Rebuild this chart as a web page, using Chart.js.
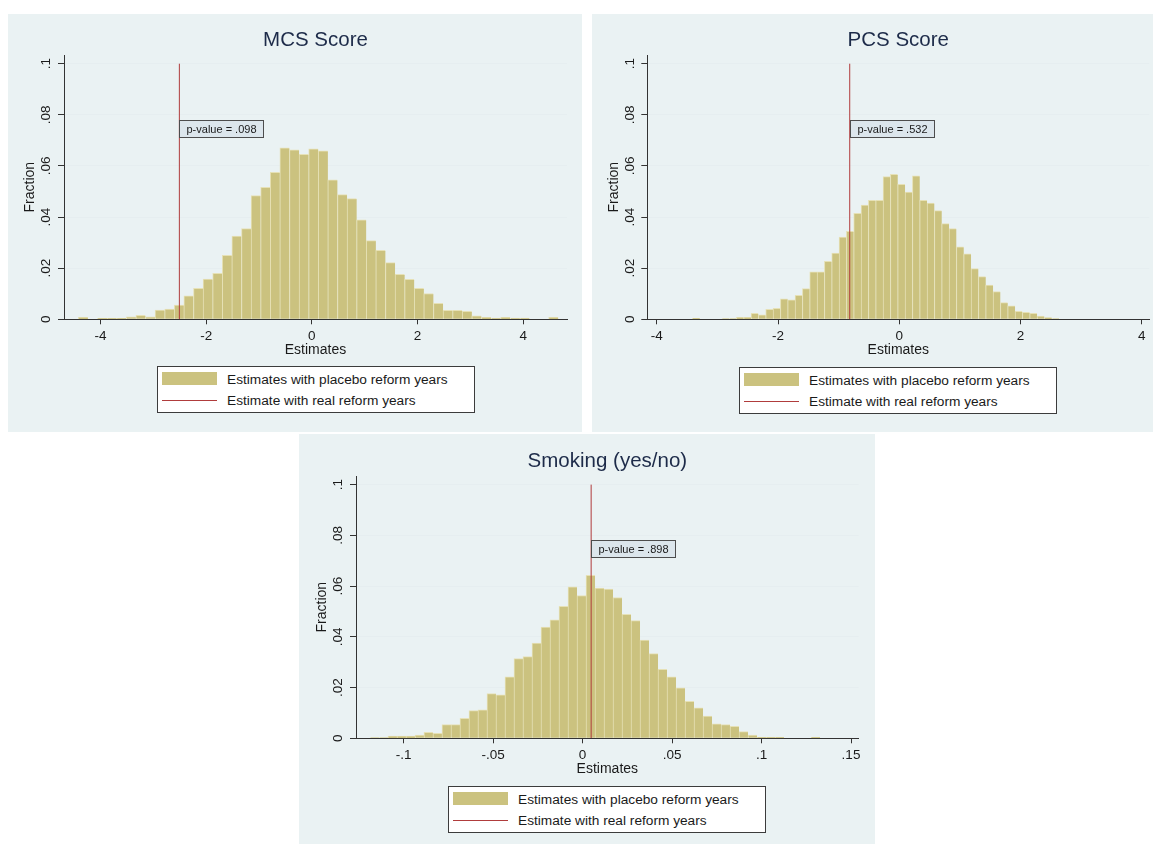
<!DOCTYPE html>
<html>
<head>
<meta charset="utf-8">
<script src="https://cdn.jsdelivr.net/npm/chart.js@4.4.1/dist/chart.umd.min.js"></script>
<style>
    body { margin: 0; background: #fff; width: 1153px; height: 844px; position: relative; overflow: hidden;
           font-family: "Liberation Sans", Arial, sans-serif; }
    .panel { position: absolute; background: #eaf2f3; }
    .panel canvas { position: absolute; left: 0; top: 0; }
    .legend { position: absolute; width: 316px; height: 43px; padding-top: 2px; background: #fff; border: 1px solid #3c3c3c; }
    .legend .row { position: relative; height: 21px; font-size: 13.7px; line-height: 21px; color: #1a1a1a; white-space: nowrap; }
    .legend .key { position: absolute; left: 4px; width: 55px; }
    .legend .key.fill { top: 3px; height: 13px; }
    .legend .key.line { top: 10px; height: 0; border-top: 1px solid; }
    .legend .txt { position: absolute; left: 69px; top: 0; }
</style>
</head>
<body>
<script>
// Histogram fractions (50 bins per panel)
const MCS_BIN_START = -4.421;
const MCS_BIN_WIDTH = 0.1817;
const MCS_FRACTION = [0.0008, 0, 0.0004, 0.0004, 0.0004, 0.001, 0.0016, 0.001, 0.0036, 0.004,
    0.0056, 0.0092, 0.0121, 0.0157, 0.018, 0.025, 0.0326, 0.0355, 0.0484, 0.0516,
    0.0575, 0.0671, 0.0663, 0.0645, 0.0667, 0.0659, 0.0546, 0.0488, 0.0472, 0.0389,
    0.0308, 0.027, 0.0222, 0.0176, 0.0156, 0.0121, 0.0101, 0.0062, 0.0035, 0.0035,
    0.0031, 0.0014, 0.0008, 0.0005, 0.0008, 0.0005, 0.0005, 0, 0, 0.0008];
const MCS_REAL = -2.508;
const MCS_PVALUE = 'p-value = .098';

const PCS_BIN_START = -3.414;
const PCS_BIN_WIDTH = 0.121;
const PCS_FRACTION = [0.0004, 0, 0, 0, 0.0003, 0.0003, 0.0008, 0.0008, 0.0023, 0.0017,
    0.0039, 0.0043, 0.008, 0.0076, 0.0094, 0.012, 0.0186, 0.0186, 0.0227, 0.0259,
    0.0322, 0.0344, 0.0415, 0.0447, 0.0465, 0.0465, 0.0558, 0.0567, 0.0528, 0.0498,
    0.0561, 0.0465, 0.0455, 0.0425, 0.0374, 0.0355, 0.0284, 0.0256, 0.0198, 0.0167,
    0.0134, 0.0108, 0.0065, 0.0053, 0.0031, 0.0027, 0.0023, 0.0013, 0.0007, 0.0003];
const PCS_REAL = -0.818;
const PCS_PVALUE = 'p-value = .532';

const SMK_BIN_START = -0.1188;
const SMK_BIN_WIDTH = 0.00503;
const SMK_FRACTION = [0.0003, 0.0003, 0.0009, 0.0009, 0.0009, 0.0013, 0.0024, 0.002, 0.0054, 0.0054,
    0.0079, 0.0109, 0.0112, 0.0176, 0.0171, 0.0242, 0.0314, 0.0322, 0.0375, 0.0438,
    0.0467, 0.052, 0.0597, 0.0563, 0.0642, 0.0592, 0.0588, 0.0555, 0.0489, 0.0464,
    0.0387, 0.0334, 0.0272, 0.0242, 0.0199, 0.0146, 0.012, 0.0088, 0.0057, 0.0054,
    0.0047, 0.0026, 0.0013, 0.0004, 0.0004, 0.0004, 0, 0, 0, 0.0004];
const SMK_REAL = 0.0048;
const SMK_PVALUE = 'p-value = .898';

// Tick values and labels
const Y_TICKS = [0, 0.02, 0.04, 0.06, 0.08, 0.1];
const Y_LABELS = ['0', '.02', '.04', '.06', '.08', '.1'];
const SCORE_X_TICKS = [-4, -2, 0, 2, 4];
const SCORE_X_LABELS = ['-4', '-2', '0', '2', '4'];
const SMK_X_TICKS = [-0.1, -0.05, 0, 0.05, 0.1, 0.15];
const SMK_X_LABELS = ['-.1', '-.05', '0', '.05', '.1', '.15'];

const LABEL_PLACEBO = 'Estimates with placebo reform years';
const LABEL_REAL = 'Estimate with real reform years';

const FONT = '"Liberation Sans", Arial, sans-serif';
const BAR_FILL = '#cbc27f';
const BAR_EDGE = '#e6e1b6';
const LINE_RED = '#b03c3c';
const AXIS = '#333333';
const GRID = '#e6eef0';
const TEXT = '#1a1a1a';

Chart.defaults.font.family = FONT;

// Box with the p-value next to the real estimate line
const pvalueBox = {
    id: 'pvalueBox',
    afterDatasetsDraw(chart, args, opts) {
        const { ctx, scales: { x, y } } = chart;
        const px = Math.round(x.getPixelForValue(opts.at)) + 0.5;
        const py = Math.round(y.getPixelForValue(opts.top)) + 0.5;
        ctx.save();
        ctx.font = '11px ' + FONT;
        const w = Math.round(ctx.measureText(opts.text).width) + 14;
        const h = 17;
        ctx.fillStyle = '#dce6ec';
        ctx.fillRect(px, py, w, h);
        ctx.strokeStyle = '#4d4d4d';
        ctx.lineWidth = 1;
        ctx.strokeRect(px, py, w, h);
        ctx.fillStyle = TEXT;
        ctx.textBaseline = 'middle';
        ctx.fillText(opts.text, px + 7, py + h / 2 + 0.5);
        ctx.restore();
    }
};

// Legend as html, built from the datasets
const htmlLegend = {
    id: 'htmlLegend',
    afterUpdate(chart, args, opts) {
        const box = opts.el;
        box.innerHTML = '';
        chart.data.datasets.forEach(ds => {
            const row = document.createElement('div');
            row.className = 'row';
            const key = document.createElement('span');
            if (ds.type === 'line') {
                key.className = 'key line';
                key.style.borderTopColor = ds.borderColor;
            } else {
                key.className = 'key fill';
                key.style.background = ds.backgroundColor;
            }
            const txt = document.createElement('span');
            txt.className = 'txt';
            txt.textContent = ds.label;
            row.append(key, txt);
            box.appendChild(row);
        });
    }
};

function histPoints(start, width, fractions) {
    return fractions.map((f, i) => ({ x: start + width * (i + 0.5), y: f }));
}

function drawPanel(p) {
    const panel = document.createElement('div');
    panel.className = 'panel';
    Object.assign(panel.style, { left: p.left + 'px', top: p.top + 'px', width: p.w + 'px', height: p.h + 'px' });
    const canvas = document.createElement('canvas');
    canvas.width = p.w;
    canvas.height = p.h;
    const legend = document.createElement('div');
    legend.className = 'legend';
    legend.style.left = Math.round((p.plotL + p.plotR) / 2 - 159) + 'px';
    legend.style.top = p.legendTop + 'px';
    panel.append(canvas, legend);
    document.body.appendChild(panel);

    const padLeft = p.fracX - 8.4;
    const xAxisH = 39;

    new Chart(canvas, {
        data: {
            datasets: [
                {
                    type: 'bar',
                    label: LABEL_PLACEBO,
                    data: histPoints(p.binStart, p.binWidth, p.fractions),
                    backgroundColor: BAR_FILL,
                    borderColor: BAR_EDGE,
                    borderWidth: { left: 1, top: 1, right: 0, bottom: 0 },
                    barPercentage: 1,
                    categoryPercentage: 1,
                    order: 1
                },
                {
                    type: 'line',
                    label: LABEL_REAL,
                    data: [{ x: p.real, y: 0 }, { x: p.real, y: 0.1 }],
                    borderColor: LINE_RED,
                    borderWidth: 1,
                    pointRadius: 0,
                    order: 0
                }
            ]
        },
        options: {
            responsive: false,
            animation: false,
            events: [],
            layout: {
                padding: { left: padLeft, right: p.w - p.plotR, top: 0, bottom: p.h - p.plotB - xAxisH }
            },
            plugins: {
                legend: { display: false },
                tooltip: { enabled: false },
                title: {
                    display: true,
                    text: p.title,
                    fullSize: false,
                    color: '#1d2b49',
                    font: { size: 20.5, weight: 'normal' },
                    padding: { top: p.titleY - 12.3, bottom: p.plotT - p.titleY - 12.3 }
                },
                htmlLegend: { el: legend },
                pvalueBox: { at: p.real, top: 0.078, text: p.pvalue }
            },
            scales: {
                x: {
                    type: 'linear',
                    min: p.xMin,
                    max: p.xMax,
                    offset: false,
                    afterBuildTicks: s => { s.ticks = p.xTicks.map(v => ({ value: v })); },
                    afterFit: s => { s.height = xAxisH; },
                    ticks: {
                        autoSkip: false,
                        maxRotation: 0,
                        padding: 4,
                        color: TEXT,
                        font: { size: 13.5 },
                        callback: (v, i) => p.xLabels[i]
                    },
                    grid: { offset: false, drawOnChartArea: false, color: AXIS, tickLength: 5 },
                    border: { color: AXIS },
                    title: { display: true, text: 'Estimates', color: TEXT, font: { size: 14 }, padding: 0 }
                },
                y: {
                    type: 'linear',
                    min: 0,
                    max: 0.1034,
                    afterBuildTicks: s => { s.ticks = Y_TICKS.map(v => ({ value: v })); },
                    afterFit: s => { s.width = p.plotL - padLeft; },
                    ticks: {
                        autoSkip: false,
                        minRotation: 90,
                        maxRotation: 90,
                        crossAlign: 'center',
                        padding: 2,
                        color: TEXT,
                        font: { size: 13.5 },
                        callback: (v, i) => Y_LABELS[i]
                    },
                    grid: {
                        color: c => (c.tick && c.tick.value === 0 ? 'rgba(0,0,0,0)' : GRID),
                        tickColor: AXIS,
                        tickLength: 6
                    },
                    border: { color: AXIS },
                    title: { display: true, text: 'Fraction', color: TEXT, font: { size: 14 }, padding: 0 }
                }
            }
        },
        plugins: [pvalueBox, htmlLegend]
    });
}

drawPanel({
    title: 'MCS Score', left: 8, top: 14, w: 574, h: 418,
    plotL: 56, plotR: 559, plotT: 41, plotB: 305.3, titleY: 26, fracX: 22, legendTop: 352,
    xMin: -4.692, xMax: 4.83, xTicks: SCORE_X_TICKS, xLabels: SCORE_X_LABELS,
    binStart: MCS_BIN_START, binWidth: MCS_BIN_WIDTH, fractions: MCS_FRACTION,
    real: MCS_REAL, pvalue: MCS_PVALUE
});

drawPanel({
    title: 'PCS Score', left: 592, top: 14, w: 561, h: 418,
    plotL: 55.3, plotR: 557.3, plotT: 41, plotB: 305.3, titleY: 26, fracX: 22, legendTop: 353,
    xMin: -4.158, xMax: 4.125, xTicks: SCORE_X_TICKS, xLabels: SCORE_X_LABELS,
    binStart: PCS_BIN_START, binWidth: PCS_BIN_WIDTH, fractions: PCS_FRACTION,
    real: PCS_REAL, pvalue: PCS_PVALUE
});

drawPanel({
    title: 'Smoking (yes/no)', left: 299, top: 434, w: 576, h: 410,
    plotL: 57, plotR: 559.7, plotT: 42, plotB: 304.3, titleY: 27, fracX: 23, legendTop: 352,
    xMin: -0.1266, xMax: 0.1543, xTicks: SMK_X_TICKS, xLabels: SMK_X_LABELS,
    binStart: SMK_BIN_START, binWidth: SMK_BIN_WIDTH, fractions: SMK_FRACTION,
    real: SMK_REAL, pvalue: SMK_PVALUE
});
</script>
</body>
</html>
